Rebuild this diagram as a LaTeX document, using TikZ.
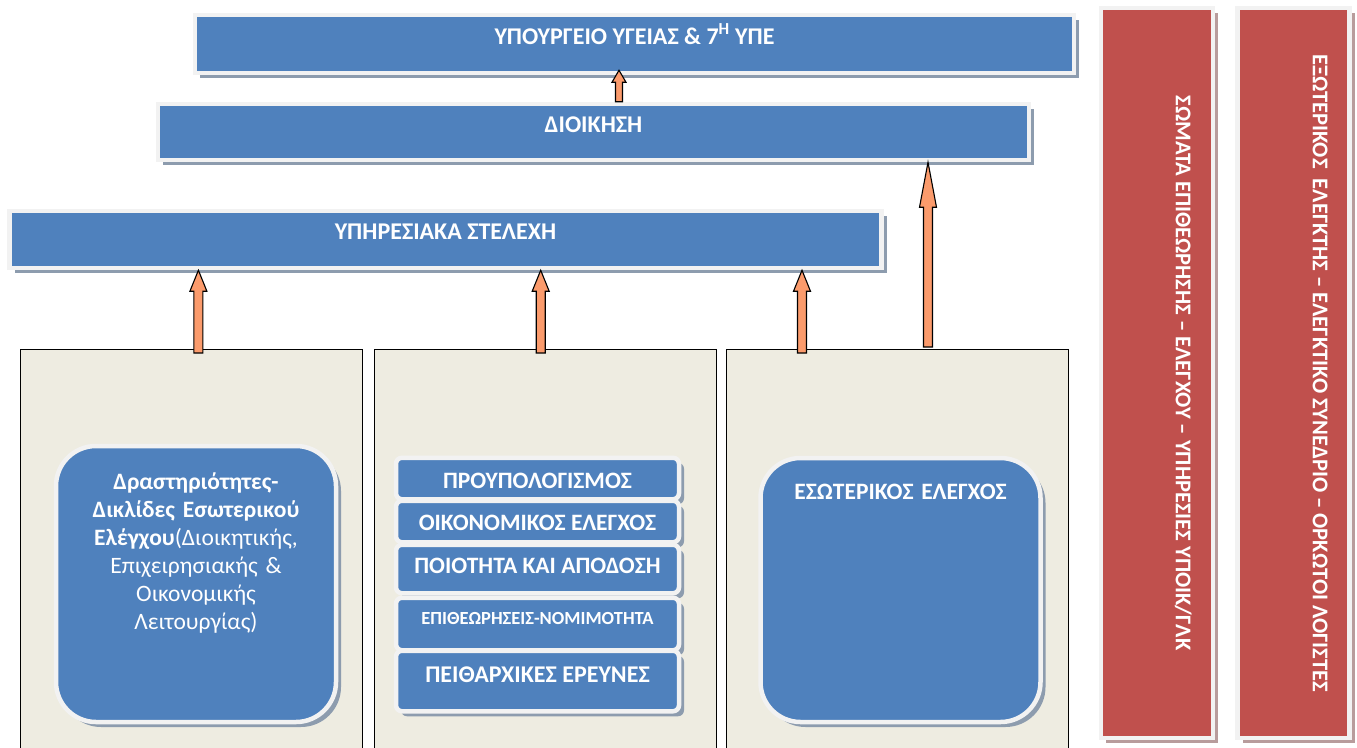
\documentclass[tikz,border=0pt]{standalone}
\usepackage{fontspec}
\setmainfont{Carlito}
\usetikzlibrary{calc, positioning, shadows}

\definecolor{boxblue}{HTML}{4F81BD}
\definecolor{boxred}{HTML}{C0504D}
\definecolor{rimwhite}{HTML}{F2F2F2}
\definecolor{shadowgrey}{HTML}{8D9CAE}
\definecolor{shadowred}{HTML}{B89C9C}
\definecolor{paneltan}{HTML}{EEECE1}
\definecolor{arrowfill}{HTML}{FB9B6C}

\tikzset{
  arrowbody/.style = {fill=arrowfill, draw=black, line width=1.1pt, line join=miter},
  blockarrow/.style n args = {3}{arrowbody,
      to path={let \p1=(\tikztostart), \p2=(\tikztotarget) in
        (\x1-#2,\y1) -- (\x1-#2,\y2-#1) -- (\x1-#3,\y2-#1) -- (\x1,\y2)
        -- (\x1+#3,\y2-#1) -- (\x1+#2,\y2-#1) -- (\x1+#2,\y1) -- cycle}},
}

\begin{document}
\begin{tikzpicture}[x=1pt, y=-1pt,
every node/.style = {inner sep=0pt, align=center},
boxbase/.style = {rectangle, draw=rimwhite, line width=4.5pt, text=white},
blueshadow/.style = {drop shadow={shadow xshift=5pt, shadow yshift=-5pt,
                     fill=shadowgrey, opacity=1}},
hdrbox/.style = {boxbase, blueshadow, fill=boxblue,
                 font=\bfseries\fontsize{24}{28}\selectfont,
                 text height=12pt, text depth=12pt},
panel/.style = {rectangle, fill=paneltan, draw=black, line width=0.8pt,
                minimum width=342pt, minimum height=411pt},
roundbox/.style = {boxbase, blueshadow, fill=boxblue, rounded corners=40pt,
                   font=\fontsize{23.5}{28}\selectfont,
                   text width=270pt, minimum width=280pt,
                   text height=15pt, text depth=#1},
stackbox/.style 2 args = {hdrbox, rounded corners=6pt, minimum width=283pt,
                          font=\bfseries\fontsize{23.5}{28}\selectfont,
                          text height=#1, text depth=#2},
redbox/.style = {boxbase, fill=boxred,
                 drop shadow={shadow xshift=5pt, shadow yshift=-5pt,
                              fill=shadowred, opacity=1},
                 minimum width=112pt, minimum height=730pt},
vtext/.style = {rotate=-90, text=white, font=\bfseries\fontsize{22.5}{26}\selectfont,
                text height=14.5pt, text depth=0pt},
]
\path[use as bounding box, fill=white] (0,0) rectangle (1357,747);

% top levels
\node[hdrbox, minimum width=879pt, minimum height=58pt] (ministry) at (634.5,44)
     {ΥΠΟΥΡΓΕΙΟ ΥΓΕΙΑΣ \& 7\textsuperscript{Η} ΥΠΕ};
\node[hdrbox, minimum width=871pt, minimum height=56pt] (admin) at (593.5,132) {ΔΙΟΙΚΗΣΗ};
\node[hdrbox, minimum width=872pt, minimum height=57pt] (staff) at (445.5,239.5)
     {ΥΠΗΡΕΣΙΑΚΑ ΣΤΕΛΕΧΗ};

% panels
\node[panel, anchor=north west] (p1) at (20,349) {};
\node[panel, right=11pt of p1] (p2) {};
\node[panel, right=9pt of p2] (p3) {};

\node[roundbox=205pt, minimum height=276pt] (controls) at (196,584)
     {\textbf{Δραστηριότητες-}\\ \textbf{Δικλίδες Εσωτερικού}\\
      \textbf{Ελέγχου}(Διοικητικής,\\ Επιχειρησιακής \&\\ Οικονομικής\\ Λειτουργίας)};

\node[stackbox={20pt}{0pt}, minimum height=41.5pt] (budget) at (537.5,478.5) {ΠΡΟΥΠΟΛΟΓΙΣΜΟΣ};
\node[stackbox={18pt}{0pt}, minimum height=41.5pt, below=-3pt of budget] (finance)
     {ΟΙΚΟΝΟΜΙΚΟΣ ΕΛΕΓΧΟΣ};
\node[stackbox={15pt}{6pt}, minimum height=48.5pt, below=-2pt of finance] (quality)
     {ΠΟΙΟΤΗΤΑ ΚΑΙ ΑΠΟΔΟΣΗ};
\node[stackbox={12pt}{12pt}, minimum height=52.5pt, below=0pt of quality,
      font=\bfseries\fontsize{18.5}{22}\selectfont] (audits) {ΕΠΙΘΕΩΡΗΣΕΙΣ-ΝΟΜΙΜΟΤΗΤΑ};
\node[stackbox={15.5pt}{12pt}, minimum height=60.5pt, below=-4pt of audits,
      font=\bfseries\fontsize{24}{28}\selectfont] (discipline) {ΠΕΙΘΑΡΧΙΚΕΣ ΕΡΕΥΝΕΣ};

\node[roundbox=197pt, minimum height=264pt] (internal) at (900.5,590)
     {\textbf{ΕΣΩΤΕΡΙΚΟΣ ΕΛΕΓΧΟΣ}};

% external bodies
\node[redbox] (inspect) at (1157,373) {};
\node[vtext] (inspecttxt) at ([xshift=26pt]inspect.center)
     {ΣΩΜΑΤΑ ΕΠΙΘΕΩΡΗΣΗΣ – ΕΛΕΓΧΟΥ – ΥΠΗΡΕΣΙΕΣ ΥΠΟΙΚ/ΓΛΚ};
\node[redbox] (external) at (1293.5,373) {};
\node[vtext] (externaltxt) at ([xshift=26.5pt]external.center)
     {ΕΞΩΤΕΡΙΚΟΣ\ \ ΕΛΕΓΚΤΗΣ – ΕΛΕΓΚΤΙΚΟ ΣΥΝΕΔΡΙΟ – ΟΡΚΩΤΟΙ ΛΟΓΙΣΤΕΣ};

% arrows
\draw[blockarrow={21pt}{4.5pt}{8.5pt}] ([xshift=7pt, yshift=-4pt]p1.north) to (staff.south);
\draw[blockarrow={21pt}{4.5pt}{8.5pt}] ([xshift=-4.5pt, yshift=-4pt]p2.north) to (staff.south);
\draw[blockarrow={21pt}{4.5pt}{8.5pt}] ([xshift=-95pt, yshift=-4pt]p3.north) to (staff.south);
\draw[blockarrow={45pt}{4.5pt}{8.5pt}] ([xshift=31pt, yshift=2pt]p3.north) to (admin.south);
\draw[blockarrow={12pt}{3.5pt}{7pt}] ([xshift=25.5pt]admin.north) to ([yshift=5pt]ministry.south);

\end{tikzpicture}
\end{document}
